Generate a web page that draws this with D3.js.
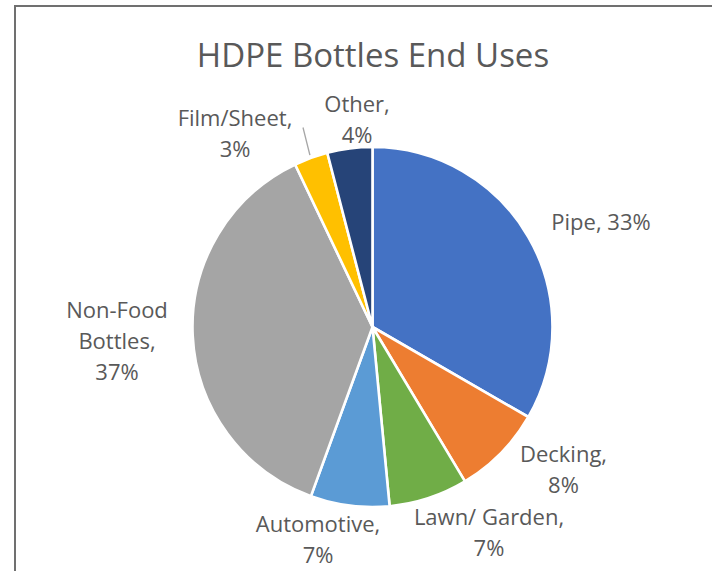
<!DOCTYPE html>
<html>
<head>
<meta charset="utf-8">
<script src="https://cdn.jsdelivr.net/npm/d3@7"></script>
<style>
  html, body { margin: 0; padding: 0; background: #fff; }
  svg { display: block; }
  text { font-family: "Open Sans", "Noto Sans", sans-serif; fill: #595959; }
</style>
</head>
<body>
<script>
// End-use shares of recycled HDPE bottles (percent)
const categories = ["Pipe", "Decking", "Lawn/ Garden", "Automotive", "Non-Food Bottles", "Film/Sheet", "Other"];
const shares = [33, 8, 7, 7, 37, 3, 4];
const colors = ["#4472C4", "#ED7D31", "#70AD47", "#5B9BD5", "#A5A5A5", "#FFC000", "#264478"];

// Label text lines for each slice
const labelLines = [
  ["Pipe, 33%"],
  ["Decking,", "8%"],
  ["Lawn/ Garden,", "7%"],
  ["Automotive,", "7%"],
  ["Non-Food", "Bottles,", "37%"],
  ["Film/Sheet,", "3%"],
  ["Other,", "4%"]
];
// Label block centres, relative to the pie centre
const labelOffsets = [
  [228.5, -105], [191, 143], [116.5, 206], [-54.5, 213],
  [-255.5, 14.5], [-137.5, -193.5], [-15.5, -207]
];

const W = 712, H = 571;
const cx = 372.5, cy = 327, R = 180;
const lineGap = 31, fontSize = 22;

const svg = d3.select("body").append("svg").attr("width", W).attr("height", H);

// Chart frame
svg.append("rect")
  .attr("x", 15).attr("y", 6).attr("width", W + 20).attr("height", H + 20)
  .attr("fill", "none").attr("stroke", "#707070").attr("stroke-width", 2);

svg.append("text")
  .attr("x", 373).attr("y", 67)
  .attr("text-anchor", "middle")
  .style("font-size", "33px")
  .text("HDPE Bottles End Uses");

const pie = d3.pie().sort(null).value(d => d)(shares);
const arc = d3.arc().innerRadius(0).outerRadius(R);

const g = svg.append("g").attr("transform", `translate(${cx},${cy})`);

g.selectAll("path.slice")
  .data(pie)
  .join("path")
  .attr("class", "slice")
  .attr("d", arc)
  .attr("fill", (d, i) => colors[i])
  .attr("stroke", "#fff")
  .attr("stroke-width", 2.6)
  .attr("stroke-linejoin", "round");

// Leader line for the thin Film/Sheet slice
const filmIdx = categories.indexOf("Film/Sheet");
const fd = pie[filmIdx];
const fmid = (fd.startAngle + fd.endAngle) / 2;
const p0 = [Math.sin(fmid) * (R + 3), -Math.cos(fmid) * (R + 3)];
const lo = labelOffsets[filmIdx];
const p1 = [lo[0] + 68, lo[1] - 6];
g.append("line")
  .attr("x1", p0[0]).attr("y1", p0[1])
  .attr("x2", p1[0]).attr("y2", p1[1])
  .attr("stroke", "#a6a6a6").attr("stroke-width", 1.3);

// Data labels
labelLines.forEach((lines, i) => {
  const [ox, oy] = labelOffsets[i];
  const top = oy - (lines.length - 1) * lineGap / 2;
  const t = g.append("text")
    .attr("text-anchor", "middle")
    .style("font-size", fontSize + "px");
  lines.forEach((ln, j) => {
    t.append("tspan")
      .attr("x", ox)
      .attr("y", top + j * lineGap + fontSize * 0.36)
      .text(ln);
  });
});
</script>
</body>
</html>
